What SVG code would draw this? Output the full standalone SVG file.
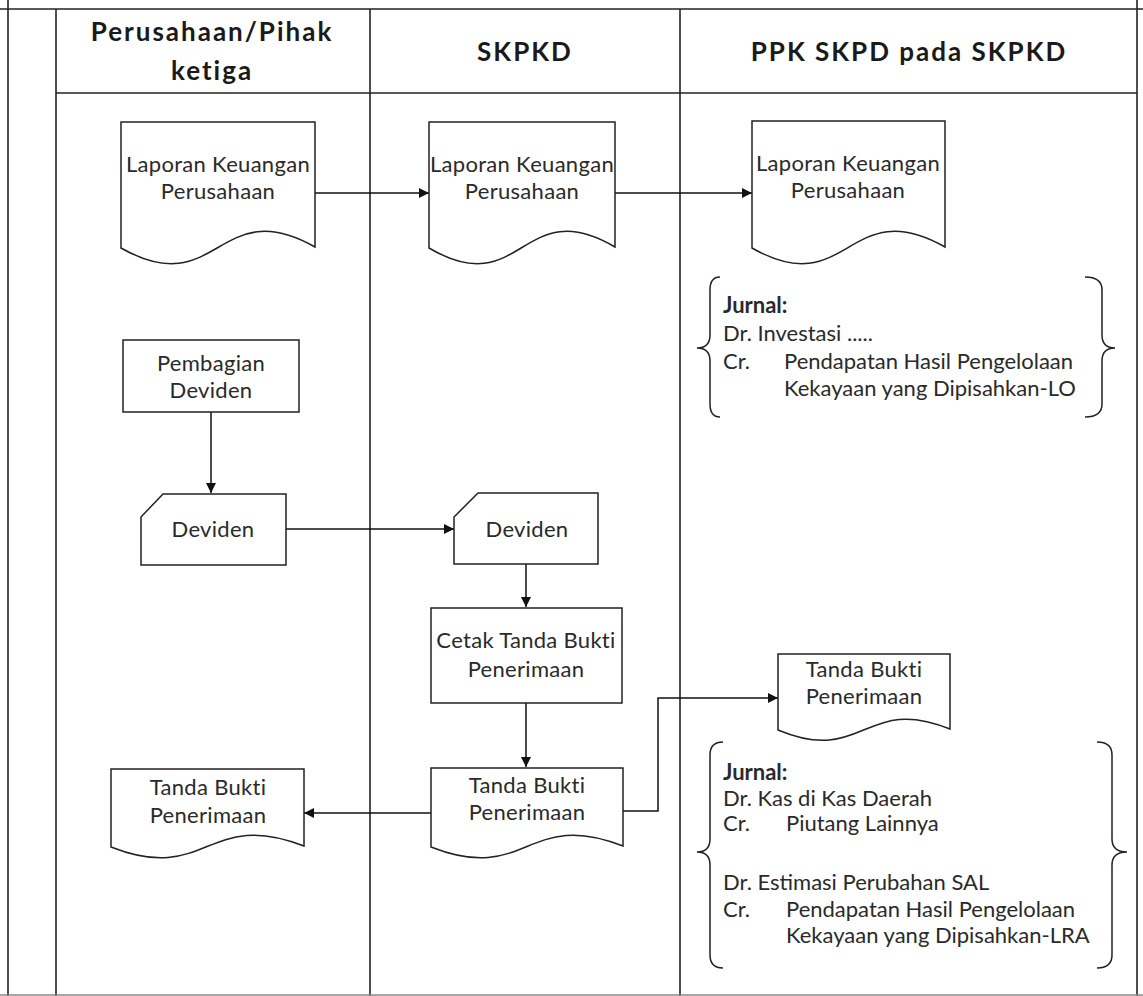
<svg xmlns="http://www.w3.org/2000/svg" width="1143" height="996" viewBox="0 0 1143 996">
  <defs>
    <marker id="arrow" viewBox="0 0 10 10" refX="10" refY="5" markerWidth="10" markerHeight="10" markerUnits="userSpaceOnUse" orient="auto">
      <path d="M0,0 L10,5 L0,10 Z" fill="#111"/>
    </marker>
    <style>
      .frame { stroke: #222; stroke-width: 1.6; fill: none; }
      .shape { stroke: #222; stroke-width: 1.5; fill: #fff; }
      .brace { stroke: #222; stroke-width: 1.5; fill: none; }
      .conn { stroke: #111; stroke-width: 1.5; fill: none; marker-end: url(#arrow); }
      .hdr { font-family: Lato, "Liberation Sans", sans-serif; font-weight: bold; font-size: 26px; letter-spacing: 2px; fill: #1a1a1a; text-anchor: middle; }
      .lbl { font-family: Lato, "Liberation Sans", sans-serif; font-size: 22px; letter-spacing: 0.3px; fill: #2a2a2a; text-anchor: middle; }
      .jr { font-family: Lato, "Liberation Sans", sans-serif; font-size: 22px; fill: #2a2a2a; }
      .jb { font-weight: bold; }
    </style>
  </defs>

  <rect width="1143" height="996" fill="#fff"/>

  <!-- swimlane frame -->
  <g id="frame">
    <line class="frame" x1="0" y1="9" x2="1143" y2="9"/>
    <line class="frame" x1="8" y1="0" x2="8" y2="996"/>
    <line class="frame" x1="1137" y1="0" x2="1137" y2="996"/>
    <line class="frame" x1="56" y1="9" x2="56" y2="996"/>
    <line class="frame" x1="370" y1="9" x2="370" y2="996"/>
    <line class="frame" x1="680" y1="9" x2="680" y2="996"/>
    <line class="frame" x1="56" y1="93" x2="1137" y2="93"/>
    <line x1="0" y1="995" x2="1143" y2="995" stroke="#888" stroke-width="1.5"/>
  </g>

  <!-- lane headers -->
  <g id="headers">
    <text class="hdr" x="212" y="41">Perusahaan/Pihak</text>
    <text class="hdr" x="212" y="80">ketiga</text>
    <text class="hdr" x="525" y="61">SKPKD</text>
    <text class="hdr" x="909" y="61">PPK SKPD pada SKPKD</text>
  </g>

  <!-- connectors -->
  <g id="connectors">
    <line class="conn" x1="315" y1="193" x2="429" y2="193"/>
    <line class="conn" x1="615" y1="193" x2="752" y2="193"/>
    <line class="conn" x1="211" y1="412" x2="211" y2="493"/>
    <line class="conn" x1="286" y1="529" x2="454" y2="529"/>
    <line class="conn" x1="526" y1="564" x2="526" y2="607"/>
    <line class="conn" x1="526" y1="703" x2="526" y2="767"/>
    <polyline class="conn" points="623,811 658,811 658,698 778,698"/>
    <line class="conn" x1="431" y1="813" x2="304" y2="813"/>
  </g>

  <!-- Perusahaan lane -->
  <g id="doc-laporan-perusahaan">
    <path class="shape" d="M121,122 H315 V247 C218,192 218,303 121,248 Z"/>
    <text class="lbl" x="218" y="172">Laporan Keuangan</text>
    <text class="lbl" x="218" y="199">Perusahaan</text>
  </g>
  <g id="proc-pembagian-deviden">
    <rect class="shape" x="123" y="340" width="176" height="72"/>
    <text class="lbl" x="211" y="371">Pembagian</text>
    <text class="lbl" x="211" y="398">Deviden</text>
  </g>
  <g id="input-deviden-perusahaan">
    <path class="shape" d="M163,494 H286 V565 H141 V517 Z"/>
    <text class="lbl" x="213" y="537">Deviden</text>
  </g>
  <g id="doc-tbp-perusahaan">
    <path class="shape" d="M111,769 H304 V846 C207,808 207,885 111,847 Z"/>
    <text class="lbl" x="208" y="795">Tanda Bukti</text>
    <text class="lbl" x="208" y="823">Penerimaan</text>
  </g>

  <!-- SKPKD lane -->
  <g id="doc-laporan-skpkd">
    <path class="shape" d="M429,122 H615 V247 C522,192 522,303 429,248 Z"/>
    <text class="lbl" x="522" y="172">Laporan Keuangan</text>
    <text class="lbl" x="522" y="199">Perusahaan</text>
  </g>
  <g id="input-deviden-skpkd">
    <path class="shape" d="M478,493 H598 V564 H454 V517 Z"/>
    <text class="lbl" x="527" y="537">Deviden</text>
  </g>
  <g id="proc-cetak-tbp">
    <rect class="shape" x="431" y="608" width="191" height="95"/>
    <text class="lbl" x="526" y="648">Cetak Tanda Bukti</text>
    <text class="lbl" x="526" y="677">Penerimaan</text>
  </g>
  <g id="doc-tbp-skpkd">
    <path class="shape" d="M431,768 H623 V846 C527,808 527,885 431,847 Z"/>
    <text class="lbl" x="527" y="793">Tanda Bukti</text>
    <text class="lbl" x="527" y="820">Penerimaan</text>
  </g>

  <!-- PPK SKPD lane -->
  <g id="doc-laporan-ppk">
    <path class="shape" d="M752,121 H945 V247 C848,192 848,303 752,248 Z"/>
    <text class="lbl" x="848" y="171">Laporan Keuangan</text>
    <text class="lbl" x="848" y="198">Perusahaan</text>
  </g>
  <g id="jurnal-lo">
    <path class="brace" d="M720,277 Q710,277 710,290 V335 Q710,348 697,348 Q710,348 710,361 V404 Q710,417 720,417"/>
    <path class="brace" d="M1085,277 Q1102,277 1102,290 V335 Q1102,348 1115,348 Q1102,348 1102,361 V404 Q1102,417 1085,417"/>
    <text class="jr jb" x="723" y="313">Jurnal:</text>
    <text class="jr" x="723" y="341">Dr. Investasi .....</text>
    <text class="jr" x="723" y="369">Cr.</text>
    <text class="jr" x="784" y="369">Pendapatan Hasil Pengelolaan</text>
    <text class="jr" x="784" y="396">Kekayaan yang Dipisahkan-LO</text>
  </g>
  <g id="doc-tbp-ppk">
    <path class="shape" d="M778,654 H950 V729 C864,694 864,766 778,730 Z"/>
    <text class="lbl" x="864" y="677">Tanda Bukti</text>
    <text class="lbl" x="864" y="704">Penerimaan</text>
  </g>
  <g id="jurnal-lra">
    <path class="brace" d="M723,742 Q710,742 710,755 V839 Q710,852 697,852 Q710,852 710,865 V955 Q710,968 723,968"/>
    <path class="brace" d="M1097,742 Q1112,742 1112,755 V839 Q1112,852 1127,852 Q1112,852 1112,865 V955 Q1112,968 1097,968"/>
    <text class="jr jb" x="723" y="780">Jurnal:</text>
    <text class="jr" x="723" y="806">Dr. Kas di Kas Daerah</text>
    <text class="jr" x="723" y="831">Cr.</text>
    <text class="jr" x="786" y="831">Piutang Lainnya</text>
    <text class="jr" x="723" y="890">Dr. Estimasi Perubahan SAL</text>
    <text class="jr" x="723" y="917">Cr.</text>
    <text class="jr" x="786" y="917">Pendapatan Hasil Pengelolaan</text>
    <text class="jr" x="786" y="943">Kekayaan yang Dipisahkan-LRA</text>
  </g>
</svg>
